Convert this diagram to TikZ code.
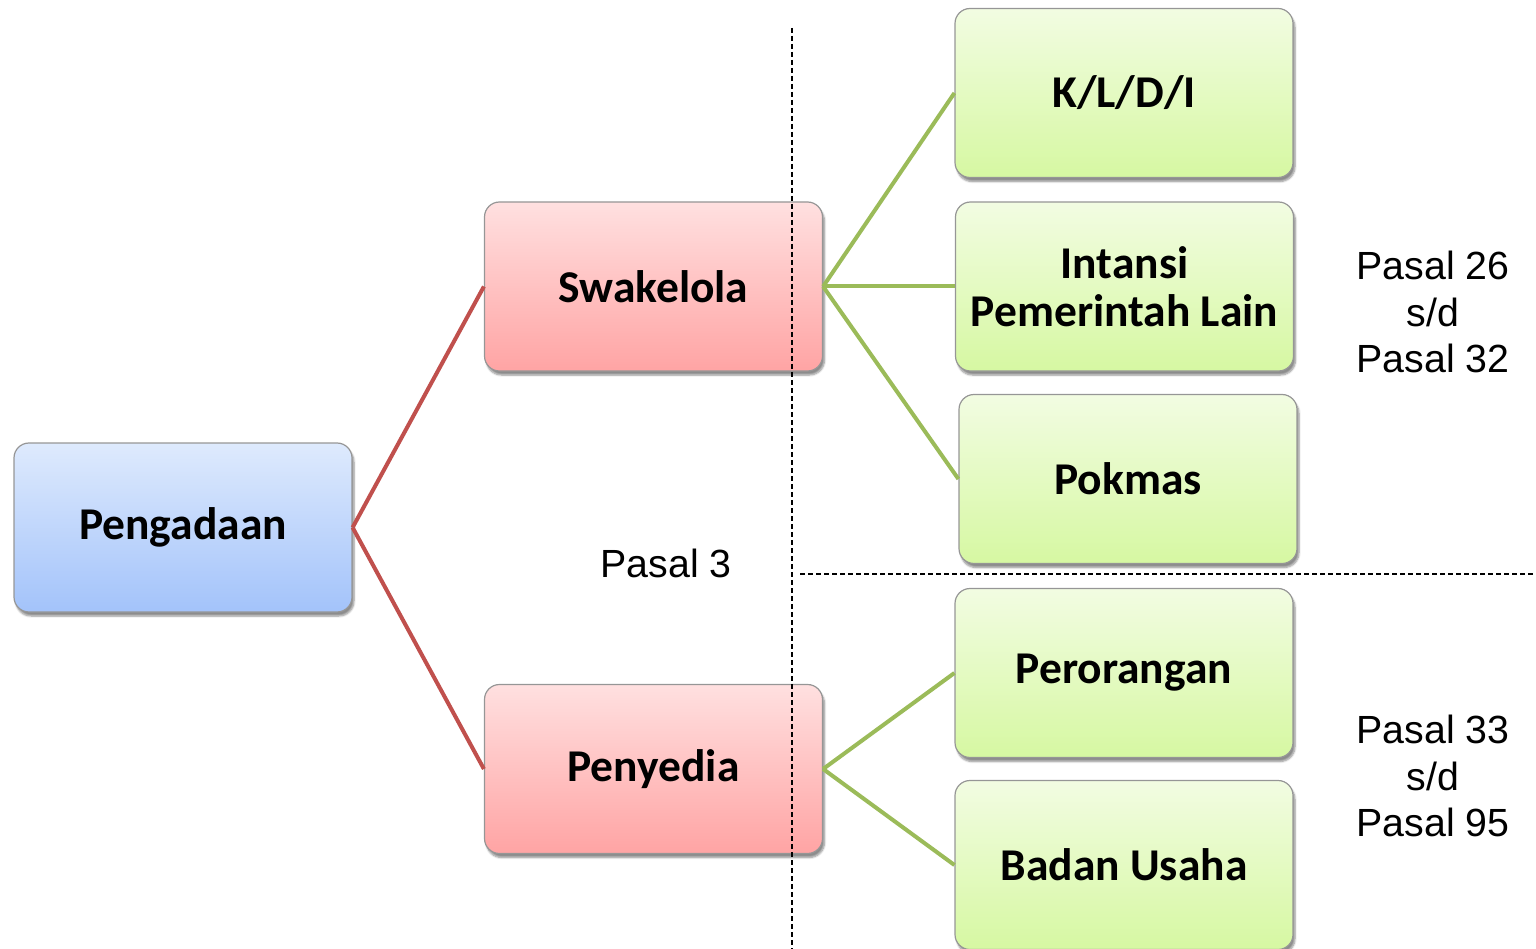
\documentclass[tikz,border=0pt]{standalone}
\usepackage{fontspec}
\setmainfont{Carlito}
\newfontfamily\labelfont{Liberation Sans}
\usetikzlibrary{shadows.blur}

\definecolor{blueTop}{RGB}{222,234,253}
\definecolor{blueBot}{RGB}{163,195,250}
\definecolor{redTop}{RGB}{255,224,224}
\definecolor{redBot}{RGB}{255,164,164}
\definecolor{greenTop}{RGB}{242,252,226}
\definecolor{greenBot}{RGB}{214,248,162}
\definecolor{boxEdge}{RGB}{150,150,150}
\definecolor{redLink}{RGB}{192,80,77}
\definecolor{greenLink}{RGB}{155,187,89}

\tikzset{
  box/.style={draw=boxEdge, line width=1.2pt, rounded corners=15pt,
    minimum width=338pt, minimum height=169pt, inner sep=0pt,
    font=\fontsize{45.5}{48}\selectfont\bfseries, align=center,
    blur shadow={shadow xshift=2pt, shadow yshift=-4pt, shadow blur steps=6, shadow opacity=45}},
  rootbox/.style={box, top color=blueTop, bottom color=blueBot},
  midbox/.style={box, top color=redTop, bottom color=redBot},
  leafbox/.style={box, top color=greenTop, bottom color=greenBot},
  redlink/.style={draw=redLink, line width=4pt},
  greenlink/.style={draw=greenLink, line width=4pt},
  divider/.style={draw=black, line width=1.5pt, dash pattern=on 5pt off 3pt},
  note/.style={font=\labelfont\fontsize{39.3}{46.5}\selectfont, align=center, inner sep=0pt}
}

\begin{document}
\begin{tikzpicture}[x=1pt,y=-1pt]
  \useasboundingbox (0,0) rectangle (1536,949);

  % boxes
  \node[rootbox] (root) at (183,527.5) {Pengadaan};
  \node[midbox] (swa) at (653.5,286.5) {Swakelola};
  \node[midbox] (pen) at (653.5,769) {Penyedia};
  \node[leafbox] (kldi) at (1124,93) {K/L/D/I};
  \node[leafbox] (ipl) at (1124.5,286.5) {Intansi\\Pemerintah Lain};
  \node[leafbox] (pok) at (1128,479) {Pokmas};
  \node[leafbox] (per) at (1124,673) {Perorangan};
  \node[leafbox] (bu) at (1124,865) {Badan Usaha};

  % connectors
  \draw[redlink] (root.east) -- (swa.west);
  \draw[redlink] (root.east) -- (pen.west);
  \draw[greenlink] (swa.east) -- (kldi.west);
  \draw[greenlink] (swa.east) -- (ipl.west);
  \draw[greenlink] (swa.east) -- (pok.west);
  \draw[greenlink] (pen.east) -- (per.west);
  \draw[greenlink] (pen.east) -- (bu.west);

  % dividers
  \coordinate (vtop) at (792,28);
  \coordinate (vbot) at (792,949);
  \coordinate (hleft) at (800,574);
  \coordinate (hright) at (1536,574);
  \draw[divider] (vtop) -- (vbot);
  \draw[divider] (hleft) -- (hright);

  % article references
  \node[note] (p3) at (666,563) {Pasal 3};
  \node[note] (pa) at (1433,312) {Pasal 26\\s/d\\Pasal 32};
  \node[note] (pb) at (1433,776) {Pasal 33\\s/d\\Pasal 95};
\end{tikzpicture}
\end{document}
